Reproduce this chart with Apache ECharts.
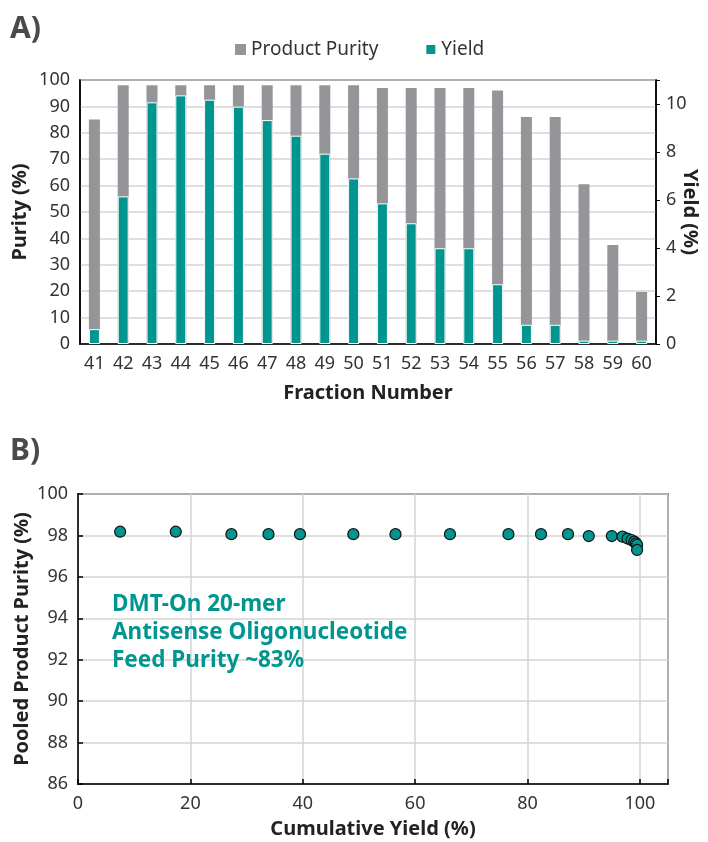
<!DOCTYPE html>
<html><head><meta charset="utf-8">
<script src="https://cdn.jsdelivr.net/npm/echarts@6/dist/echarts.min.js"></script>
<style>html,body{margin:0;padding:0;background:#fff}#c{width:708px;height:842px}</style>
</head><body><div id="c"></div>
<script>
const fractions = ['41','42','43','44','45','46','47','48','49','50','51','52','53','54','55','56','57','58','59','60'];
const purity = [85, 98, 98, 98, 98, 98, 98, 98, 98, 98, 97, 97, 97, 97, 96, 86, 86, 60.5, 37.5, 19.7];
const yieldPct = [0.62, 6.15, 10.07, 10.36, 10.18, 9.89, 9.33, 8.68, 7.93, 6.9, 5.86, 5.03, 3.99, 3.99, 2.49, 0.8, 0.8, 0.14, 0.14, 0.14];
const cumYield = [7.5, 17.4, 27.3, 33.9, 39.5, 49.0, 56.5, 66.2, 76.6, 82.4, 87.2, 90.9, 95.0, 96.9, 97.8, 98.5, 99.0, 99.3, 99.5, 99.5];
const pooledPurity = [98.18, 98.18, 98.06, 98.06, 98.06, 98.06, 98.06, 98.06, 98.06, 98.06, 98.06, 97.97, 97.97, 97.94, 97.85, 97.78, 97.70, 97.62, 97.55, 97.30];
const annotationLines = ['DMT-On 20-mer', 'Antisense Oligonucleotide', 'Feed Purity ~83%'];

const TEAL = '#00968f', GRAY = '#939598', GRID = '#d4d4d4', TXT = '#333';
const FONT = 'Noto Sans';
const chart = echarts.init(document.getElementById('c'), null, {renderer: 'canvas'});
const lbl = {color: TXT, fontSize: 18, fontFamily: FONT};
const nameSt = {color: '#222', fontSize: 20, fontWeight: 'bold', fontFamily: FONT};
const nameC = Object.assign({align: 'center', verticalAlign: 'middle'}, nameSt);

chart.setOption({
  animation: false,
  textStyle: {fontFamily: FONT},
  legend: {
    data: ['Product Purity', 'Yield'], left: 230, top: 35, icon: 'rect',
    itemWidth: 11, itemHeight: 11, itemGap: 46, textStyle: {color: TXT, fontSize: 19, fontFamily: FONT}
  },
  graphic: [
    {type: 'text', z: 100, left: 10, top: 14, style: {text: 'A)', fill: '#4a4a4a', font: 'bold 30px "Noto Sans"'}},
    {type: 'text', z: 100, left: 10, top: 436, style: {text: 'B)', fill: '#4a4a4a', font: 'bold 30px "Noto Sans"'}},
    {type: 'text', z: 100, left: 112, top: 591, style: {text: annotationLines.join('\n'), fill: TEAL, font: 'bold 22.5px "Noto Sans"', lineHeight: 28}}
  ],
  grid: [
    {left: 80, right: 52, top: 80, height: 264, show: true, borderColor: '#000', borderWidth: 1.5, containLabel: false, outerBoundsMode: 'none'},
    {left: 78, right: 40, top: 494, height: 290, show: true, borderColor: '#000', borderWidth: 1.5, containLabel: false, outerBoundsMode: 'none'}
  ],
  xAxis: [
    {type: 'category', gridIndex: 0, data: fractions,
     axisLine: {lineStyle: {color: '#000', width: 1.5}}, axisTick: {show: false},
     axisLabel: Object.assign({margin: 11}, lbl),
     name: 'Fraction Number', nameLocation: 'middle', nameGap: 39, nameTextStyle: nameSt},
    {type: 'value', gridIndex: 1, min: 0, max: 105, interval: 20,
     axisLine: {lineStyle: {color: '#000', width: 1.5}},
     axisTick: {show: true, inside: true, length: 5, lineStyle: {color: '#000', width: 1.5}},
     splitLine: {show: true, lineStyle: {color: GRID, width: 1.5}},
     axisLabel: Object.assign({margin: 11, formatter: v => (v % 20 === 0 ? v : '')}, lbl),
     name: 'Cumulative Yield (%)', nameLocation: 'middle', nameGap: 35, nameTextStyle: nameSt}
  ],
  yAxis: [
    {type: 'value', gridIndex: 0, min: 0, max: 100, interval: 10,
     axisLine: {show: true, lineStyle: {color: '#000', width: 1.5}},
     axisTick: {show: false},
     splitLine: {lineStyle: {color: GRID, width: 1.5}},
     axisLabel: Object.assign({margin: 10}, lbl),
     name: 'Purity (%)', nameLocation: 'middle', nameGap: 60, nameMoveOverlap: false, nameTextStyle: nameC},
    {type: 'value', gridIndex: 0, min: 0, max: 11, interval: 2, position: 'right',
     axisLine: {show: true, lineStyle: {color: '#000', width: 1.5}},
     axisTick: {show: true, length: 4, lineStyle: {color: '#000'}},
     splitLine: {show: false},
     axisLabel: Object.assign({margin: 10, formatter: v => (v % 2 === 0 ? v : '')}, lbl),
     name: 'Yield (%)', nameLocation: 'middle', nameGap: 34, nameRotate: -90, nameMoveOverlap: false, nameTextStyle: nameC},
    {type: 'value', gridIndex: 1, min: 86, max: 100, interval: 2,
     axisLine: {show: true, lineStyle: {color: '#000', width: 1.5}},
     axisTick: {show: true, inside: true, length: 5, lineStyle: {color: '#000', width: 1.5}},
     splitLine: {lineStyle: {color: GRID, width: 1.5}},
     axisLabel: Object.assign({margin: 10}, lbl),
     name: 'Pooled Product Purity (%)', nameLocation: 'middle', nameGap: 56, nameMoveOverlap: false, nameTextStyle: nameC}
  ],
  series: [
    {name: 'Product Purity', type: 'bar', xAxisIndex: 0, yAxisIndex: 0, data: purity,
     barWidth: 11, barGap: '-100%', itemStyle: {color: GRAY}},
    {name: 'Yield', type: 'bar', xAxisIndex: 0, yAxisIndex: 1, data: yieldPct,
     barWidth: 11, itemStyle: {color: TEAL, borderColor: '#fff', borderWidth: 1}},
    {name: 'Pooled', type: 'scatter', xAxisIndex: 1, yAxisIndex: 2,
     data: cumYield.map((x, i) => [x, pooledPurity[i]]),
     symbolSize: 11, itemStyle: {color: TEAL, borderColor: '#111', borderWidth: 1.2, opacity: 1}}
  ]
});
</script></body></html>
